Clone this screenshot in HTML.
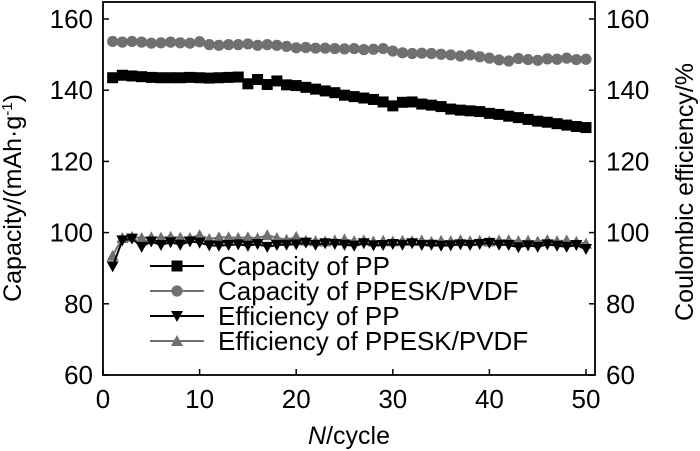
<!DOCTYPE html>
<html><head><meta charset="utf-8"><style>
body{margin:0;background:#fff;}
svg{display:block;font-family:"Liberation Sans",Arial,sans-serif;}
</style></head><body>
<svg id="chart" width="700" height="451" viewBox="0 0 700 451"></svg>
<script>
const cycles = Array.from({length:50},(_,i)=>i+1);
const capPP = [143.5,144.2,144.0,143.8,143.6,143.5,143.5,143.5,143.6,143.5,143.4,143.5,143.6,143.7,141.8,143.0,141.6,142.6,141.5,141.3,140.8,140.3,139.8,139.3,138.6,138.2,137.8,137.4,136.7,135.6,136.6,136.7,136.1,135.8,135.4,134.7,134.4,134.2,134.0,133.5,133.2,132.7,132.3,131.8,131.3,131.0,130.6,130.2,129.8,129.5];
const capPPESK = [153.7,153.5,153.7,153.5,153.2,153.3,153.5,153.3,153.2,153.6,152.8,152.6,152.8,152.8,153.0,152.6,152.8,152.6,152.3,151.9,152.0,151.8,151.8,151.7,151.6,151.7,151.4,151.5,151.7,151.0,150.5,150.3,150.4,150.3,150.1,149.9,149.6,149.9,149.4,149.0,148.5,148.2,148.9,148.6,148.4,148.8,148.7,149.0,148.6,148.7];
const effPP = [90.5,97.8,98.3,96.0,97.5,96.5,97.3,96.6,97.5,97.2,96.4,96.3,96.5,96.7,96.3,96.8,96.0,96.5,96.6,96.7,97.2,96.6,97.0,96.8,96.6,96.3,97.0,96.4,96.5,96.8,96.6,97.0,96.5,96.6,96.3,96.4,96.7,96.5,96.8,97.1,96.6,96.5,95.9,96.4,96.0,96.7,96.3,96.0,96.5,95.4];
const effPPESK = [93.5,98.5,98.8,98.5,98.7,98.6,98.8,98.6,98.5,99.3,98.2,98.7,98.7,98.5,98.7,98.4,99.3,98.5,98.0,98.8,97.7,97.6,97.5,97.8,98.1,97.6,97.8,97.5,97.7,97.5,97.7,97.6,97.8,97.4,97.7,97.6,97.9,97.6,97.7,97.5,97.8,97.9,97.6,97.7,97.5,97.9,97.6,97.8,97.4,96.9];
const xTicks = [0,10,20,30,40,50];
const yTicks = [60,80,100,120,140,160];

const svg=document.getElementById('chart');
const NS='http://www.w3.org/2000/svg';
const X0=103,X1=595,Y0=375,YT=2;
const xs=v=>103+v*9.66;
const ys=v=>375-(v-60)*3.56;
function mk(tag,attrs,parent){const e=document.createElementNS(NS,tag);for(const k in attrs)e.setAttribute(k,attrs[k]);(parent||svg).appendChild(e);return e;}

const frame=mk('rect',{x:X0,y:YT,width:X1-X0,height:Y0-YT,fill:'none',stroke:'#000','stroke-width':1.8});



xTicks.forEach(t=>{
  const l=mk('line',{x1:xs(t),x2:xs(t),y1:Y0,y2:Y0-6,stroke:'#000','stroke-width':1.5});
  
  
  const tx=mk('text',{x:xs(t),y:408,'font-size':26,'text-anchor':'middle'});
  tx.textContent=t;
  
  
});
yTicks.forEach(t=>{
  const l=mk('line',{x1:X0,x2:X0+6,y1:ys(t),y2:ys(t),stroke:'#000','stroke-width':1.5});
  
  
  const r=mk('line',{x1:X1,x2:X1-6,y1:ys(t),y2:ys(t),stroke:'#000','stroke-width':1.5});
  
  
  const tl=mk('text',{x:X0-10,y:ys(t)+9,'font-size':26,'text-anchor':'end'});
  tl.textContent=t;
  
  
  const tr=mk('text',{x:X1+11,y:ys(t)+9,'font-size':26,'text-anchor':'start'});
  tr.textContent=t;
  
  
});

function marker(type,x,y,col,g){
  if(type==='sq') return mk('rect',{x:x-5.5,y:y-5.5,width:11,height:11,fill:col},g);
  if(type==='ci') return mk('circle',{cx:x,cy:y,r:5.6,fill:col},g);
  if(type==='dn') return mk('polygon',{points:`${x-6},${y-5} ${x+6},${y-5} ${x},${y+6}`,fill:col},g);
  return mk('polygon',{points:`${x-6},${y+5} ${x+6},${y+5} ${x},${y-6}`,fill:col},g);
}
function series(vals,type,col,name){
  const g=mk('g',{});
  
  
  const pl=mk('polyline',{points:vals.map((v,i)=>xs(cycles[i])+','+ys(v)).join(' '),fill:'none',stroke:col,'stroke-width':2},g);
  
  
  vals.forEach((v,i)=>{
    const m=marker(type,xs(cycles[i]),ys(v),col,g);
    
    
  });
}
series(effPPESK,'up','#707070','efficiency-ppesk-series');
series(effPP,'dn','#000','efficiency-pp-series');
series(capPPESK,'ci','#707070','capacity-ppesk-series');
series(capPP,'sq','#000','capacity-pp-series');

const leg=[['Capacity of PP','sq','#000'],['Capacity of PPESK/PVDF','ci','#707070'],['Efficiency of PP','dn','#000'],['Efficiency of PPESK/PVDF','up','#707070']];
const lg=mk('g',{});


leg.forEach((d,i)=>{
  const y=266+i*25;
  const e=mk('g',{},lg);
  
  
  mk('line',{x1:150,x2:204,y1:y,y2:y,stroke:d[2],'stroke-width':2},e);
  marker(d[1],177,y,d[2],e);
  const t=mk('text',{x:218,y:y+9,'font-size':26},e);
  t.textContent=d[0];
});

const xt=mk('text',{x:349,y:444,'font-size':25,'text-anchor':'middle'});
xt.innerHTML='<tspan font-style="italic">N</tspan>/cycle';


const yl=mk('text',{x:0,y:0,'font-size':25,'text-anchor':'middle',transform:'translate(21,198) rotate(-90)'});
yl.innerHTML='Capacity/(mAh·g<tspan dy="-9" font-size="15">-1</tspan><tspan dy="9">)</tspan>';


const yr=mk('text',{x:0,y:0,'font-size':25,'text-anchor':'middle',transform:'translate(693,192) rotate(-90)'});
yr.textContent='Coulombic efficiency/%';


</script>
</body></html>
